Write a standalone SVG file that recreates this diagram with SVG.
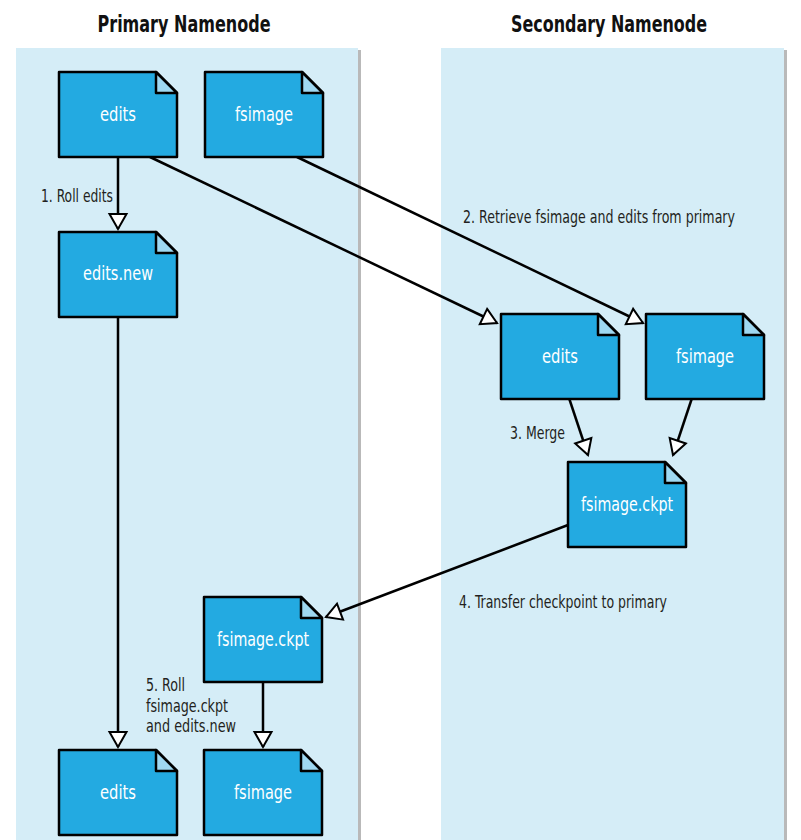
<svg xmlns="http://www.w3.org/2000/svg" width="801" height="840" viewBox="0 0 801 840">
<defs>
<style>
.panel{fill:#d5edf7}
.shadow{fill:#8a8a8a;opacity:0.6}
.doc{fill:#23aae1;stroke:#000;stroke-width:2.5;stroke-linejoin:round}
.fold{fill:#9fd8f1;stroke:#000;stroke-width:2.5;stroke-linejoin:round}
.nl{font-family:"Liberation Sans Narrow","DejaVu Sans Condensed","Liberation Sans",sans-serif;font-size:20px;fill:#fff;text-anchor:middle}
.lbl{font-family:"Liberation Sans Narrow","DejaVu Sans Condensed","Liberation Sans",sans-serif;font-size:17px;fill:#231f20}
.ttl{font-family:"Liberation Sans Narrow","DejaVu Sans Condensed","Liberation Sans",sans-serif;font-size:23px;font-weight:bold;fill:#111;text-anchor:middle}
.conn{stroke:#000;stroke-width:2.5;fill:none;marker-end:url(#tri)}
</style>
<marker id="tri" viewBox="0 0 20 20" markerWidth="20" markerHeight="20" markerUnits="userSpaceOnUse" refX="17" refY="10" orient="auto" overflow="visible">
<path d="M2,1.5 L17,10 L2,18.5 Z" fill="#fff" stroke="#000" stroke-width="2" stroke-linejoin="miter"/>
</marker>
<symbol id="docshape" overflow="visible">
<path class="doc" d="M0,0 H97 L118,21 V85 H0 Z"/>
<path class="fold" d="M97,0 V21 H118 Z"/>
</symbol>
</defs>
<rect width="801" height="840" fill="#fff"/>
<g id="panels">
<rect class="shadow" x="356" y="50" width="5" height="790"/>
<rect class="panel" x="16" y="48" width="342" height="792"/>
<rect class="shadow" x="782" y="50" width="5" height="790"/>
<rect class="panel" x="441" y="48" width="343" height="792"/>
</g>
<g id="titles">
<text class="ttl" x="184" y="32" textLength="173" lengthAdjust="spacingAndGlyphs">Primary Namenode</text>
<text class="ttl" x="609" y="32" textLength="196" lengthAdjust="spacingAndGlyphs">Secondary Namenode</text>
</g>
<g id="connectors">
<line class="conn" x1="118" y1="157" x2="118" y2="229"/>
<line class="conn" x1="150" y1="157" x2="497" y2="323"/>
<line class="conn" x1="297" y1="157" x2="643" y2="323"/>
<line class="conn" x1="569" y1="398" x2="588" y2="455"/>
<line class="conn" x1="692" y1="398" x2="673" y2="455"/>
<line class="conn" x1="568" y1="525" x2="326" y2="617"/>
<line class="conn" x1="118" y1="316" x2="118" y2="747"/>
<line class="conn" x1="263" y1="682" x2="263" y2="747"/>
</g>
<g id="labels">
<text class="lbl" x="41" y="202" textLength="72" lengthAdjust="spacingAndGlyphs">1. Roll edits</text>
<text class="lbl" x="463" y="223" textLength="272" lengthAdjust="spacingAndGlyphs">2. Retrieve fsimage and edits from primary</text>
<text class="lbl" x="510" y="439" textLength="55" lengthAdjust="spacingAndGlyphs">3. Merge</text>
<text class="lbl" x="459" y="608" textLength="208" lengthAdjust="spacingAndGlyphs">4. Transfer checkpoint to primary</text>
<text class="lbl" x="146" y="691" textLength="39" lengthAdjust="spacingAndGlyphs">5. Roll</text>
<text class="lbl" x="146" y="712" textLength="82" lengthAdjust="spacingAndGlyphs">fsimage.ckpt</text>
<text class="lbl" x="146" y="732" textLength="90" lengthAdjust="spacingAndGlyphs">and edits.new</text>
</g>
<g id="p-edits"><use href="#docshape" x="59" y="72"/><text class="nl" x="118" y="121" textLength="36" lengthAdjust="spacingAndGlyphs">edits</text></g>
<g id="p-fsimage"><use href="#docshape" x="205" y="72"/><text class="nl" x="264" y="121" textLength="58" lengthAdjust="spacingAndGlyphs">fsimage</text></g>
<g id="p-editsnew"><use href="#docshape" x="59" y="232"/><text class="nl" x="118" y="280" textLength="70" lengthAdjust="spacingAndGlyphs">edits.new</text></g>
<g id="s-edits"><use href="#docshape" x="501" y="314"/><text class="nl" x="560" y="363" textLength="36" lengthAdjust="spacingAndGlyphs">edits</text></g>
<g id="s-fsimage"><use href="#docshape" x="646" y="314"/><text class="nl" x="705" y="363" textLength="58" lengthAdjust="spacingAndGlyphs">fsimage</text></g>
<g id="s-ckpt"><use href="#docshape" x="568" y="462"/><text class="nl" x="627" y="511" textLength="92" lengthAdjust="spacingAndGlyphs">fsimage.ckpt</text></g>
<g id="p-ckpt"><use href="#docshape" x="204" y="597"/><text class="nl" x="263" y="646" textLength="92" lengthAdjust="spacingAndGlyphs">fsimage.ckpt</text></g>
<g id="p-edits2"><use href="#docshape" x="59" y="750"/><text class="nl" x="118" y="799" textLength="36" lengthAdjust="spacingAndGlyphs">edits</text></g>
<g id="p-fsimage2"><use href="#docshape" x="204" y="750"/><text class="nl" x="263" y="799" textLength="58" lengthAdjust="spacingAndGlyphs">fsimage</text></g>
</svg>
